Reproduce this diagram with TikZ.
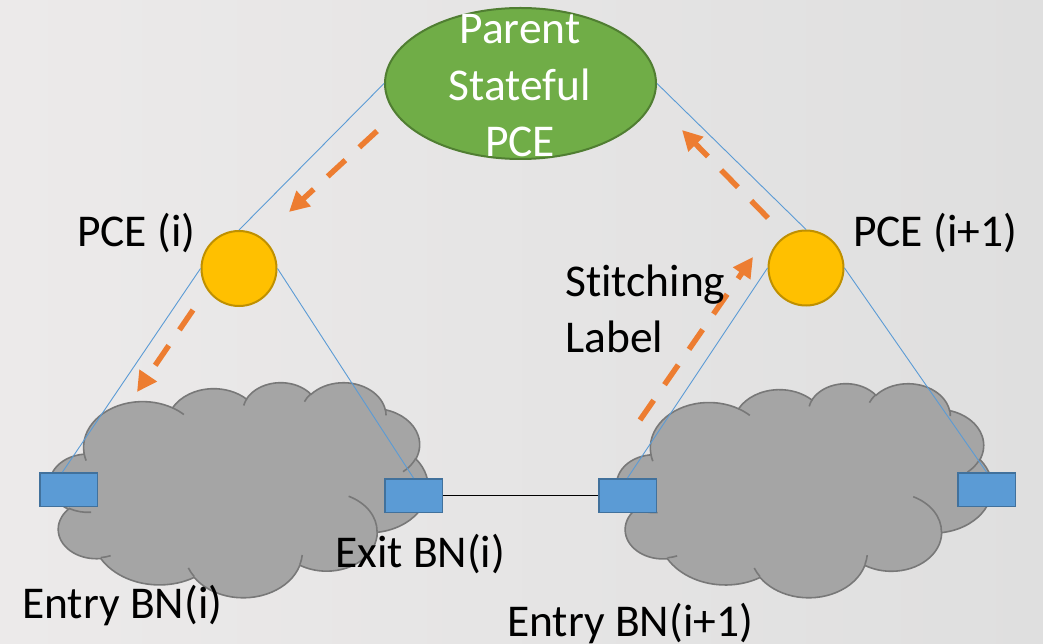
\documentclass[tikz,border=0pt]{standalone}
\usepackage{fontspec}
\setmainfont{Carlito}[RawFeature={-liga}]
\usetikzlibrary{arrows.meta,shapes.geometric,calc}

\definecolor{bgL}{RGB}{236,234,234}
\definecolor{bgR}{RGB}{223,223,223}
\definecolor{leafgreen}{RGB}{112,173,71}
\definecolor{leafedge}{RGB}{80,126,50}
\definecolor{gold}{RGB}{255,192,0}
\definecolor{goldedge}{RGB}{191,144,0}
\definecolor{bnblue}{RGB}{91,155,213}
\definecolor{bnedge}{RGB}{65,113,156}
\definecolor{cloudgray}{RGB}{165,165,165}
\definecolor{cloudedge}{RGB}{120,120,120}
\definecolor{flow}{RGB}{237,125,49}

\tikzset{
  % elliptical arc given by radii, start angle and sweep measured as seen from the centre
  oa/.style n args={4}{insert path={arc[x radius=#1, y radius=#2,
      start angle={atan2(#1*sin(#3),#2*cos(#3))},
      delta angle={mod(atan2(#1*sin(#3+#4),#2*cos(#3+#4))-atan2(#1*sin(#3),#2*cos(#3))+720,360)}]}},
  cloudline/.style={draw=cloudedge, line width=1.6pt},
  netcloud/.pic={
    \path[cloudline, fill=cloudgray] (3.900,14.370)
      [oa={6.753}{9.190}{-190.4875}{123.7805}]
      [oa={5.333}{7.267}{-144.1024}{89.9452}]
      [oa={4.365}{5.945}{-145.8079}{99.7230}]
      [oa={4.857}{6.595}{-130.9861}{117.2417}]
      [oa={5.333}{7.273}{-78.7089}{109.0269}]
      [oa={6.775}{9.220}{-46.2673}{130.2690}]
      [oa={5.785}{7.867}{0.6250}{114.0333}]
      [oa={6.752}{9.215}{22.4516}{115.1726}]
      [oa={7.720}{10.543}{66.2426}{75.7110}]
      [oa={4.360}{5.918}{-274.9421}{146.7356}]
      [oa={4.345}{5.945}{-246.8285}{152.5189}] -- cycle;
    \path[cloudline]
      (4.693,26.177) [oa={4.345}{5.945}{86.7420}{26.4295}]
      (6.928,34.899) [oa={4.360}{5.918}{73.6105}{11.4475}]
      (16.478,39.090) [oa={6.752}{9.215}{137.6242}{14.0811}]
      (28.827,34.751) [oa={6.752}{9.215}{6.4533}{15.9984}]
      (34.129,22.954) [oa={5.785}{7.867}{-70.2924}{70.9174}]
      (41.798,15.354) [oa={5.333}{7.273}{30.3180}{27.7515}]
      (38.324,5.426) [oa={4.857}{6.595}{-13.7443}{14.8589}]
      (29.078,3.952) [oa={4.857}{6.595}{-149.1815}{18.1954}]
      (22.141,4.720) [oa={4.365}{5.945}{-163.4943}{17.6864}]
      (14.000,5.192) [oa={6.753}{9.190}{-66.7070}{12.3194}]
      (4.127,15.789) [oa={6.753}{9.190}{157.6544}{11.8582}];
  },
  parent/.style={ellipse, draw=leafedge, fill=leafgreen, line width=2pt,
    minimum width=271pt, minimum height=151pt, inner sep=0pt},
  pce/.style={circle, draw=goldedge, fill=gold, line width=2pt,
    minimum size=75pt, inner sep=0pt},
  bn/.style={rectangle, draw=bnedge, fill=bnblue, line width=1.5pt,
    minimum width=57.5pt, minimum height=33.5pt, inner sep=0pt},
  link/.style={draw=bnblue, line width=0.9pt},
  wire/.style={draw=black, line width=1pt},
  flowarrow/.style={draw=flow, line width=5.5pt, dash pattern=on 24pt off 19pt,
    -{Triangle[length=20pt,width=20pt]}},
  lbl/.style={inner sep=0pt, text=black}
}

\begin{document}
\begin{tikzpicture}[x=1pt, y=1pt, font=\fontsize{45.5}{56.5}\selectfont]
\useasboundingbox (0,0) rectangle (1043,643);
\shade[left color=bgL, right color=bgR] (0,0) rectangle (1043,643);

% the two domains (shape box 43.2 x 43.2 units, y pointing down)
\path (50,261) pic[xscale=8.75, yscale=-4.977] {netcloud};
\path (617,260) pic[xscale=8.68, yscale=-4.954] {netcloud};

% boundary nodes
\node[bn] (r1) at (68.5,153.5) {};
\node[bn] (r2) at (413.5,147.5) {};
\node[bn] (r3) at (627.5,147.5) {};
\node[bn] (r4) at (986.5,153.5) {};

% path computation elements
\node[parent] (pp) at (520.5,559.5) {};
\node[pce] (c1) at (239,374.5) {};
\node[pce] (c2) at (806,375) {};

% hierarchy links
\draw[link] (pp.west) -- (c1.north);
\draw[link] (pp.east) -- (c2.north);
\draw[link] (c1.west) -- ($(r1.north)+(-6,0)$);
\draw[link] (c1.east) -- (r2.north);
\draw[link] (c2.west) -- (r3.north);
\draw[link] (c2.east) -- (r4.north);
\draw[wire] (r2.east) -- (r3.west);

% request / reply flow
\coordinate (a1s) at (377,512); \coordinate (a1e) at (289,431);
\coordinate (a2s) at (193,333); \coordinate (a2e) at (137,251);
\coordinate (a3s) at (640,223); \coordinate (a3e) at (753,386);
\coordinate (a4s) at (768,425); \coordinate (a4e) at (682,513);
\draw[flowarrow] (a1s) -- (a1e);
\draw[flowarrow] (a2s) -- (a2e);
\draw[flowarrow] (a3s) -- (a3e);
\draw[flowarrow] (a4s) -- (a4e);

% labels (a multi-line node's base is its last line)
\node[lbl, text=white, align=center, anchor=base] (t0) at (520,486) {Parent\\Stateful\\PCE};
\node[lbl, anchor=base west] (t1) at (77,396) {PCE (i)};
\node[lbl, anchor=base west] (t2) at (853,396) {PCE (i+1)};
\node[lbl, anchor=base west, align=left] (t3) at (565,290) {Stitching\\Label};
\node[lbl, anchor=base west] (t4) at (335,76) {Exit BN(i)};
\node[lbl, anchor=base west] (t5) at (22,25) {Entry BN(i)};
\node[lbl, anchor=base west] (t6) at (507,7) {Entry BN(i+1)};
\end{tikzpicture}
\end{document}
